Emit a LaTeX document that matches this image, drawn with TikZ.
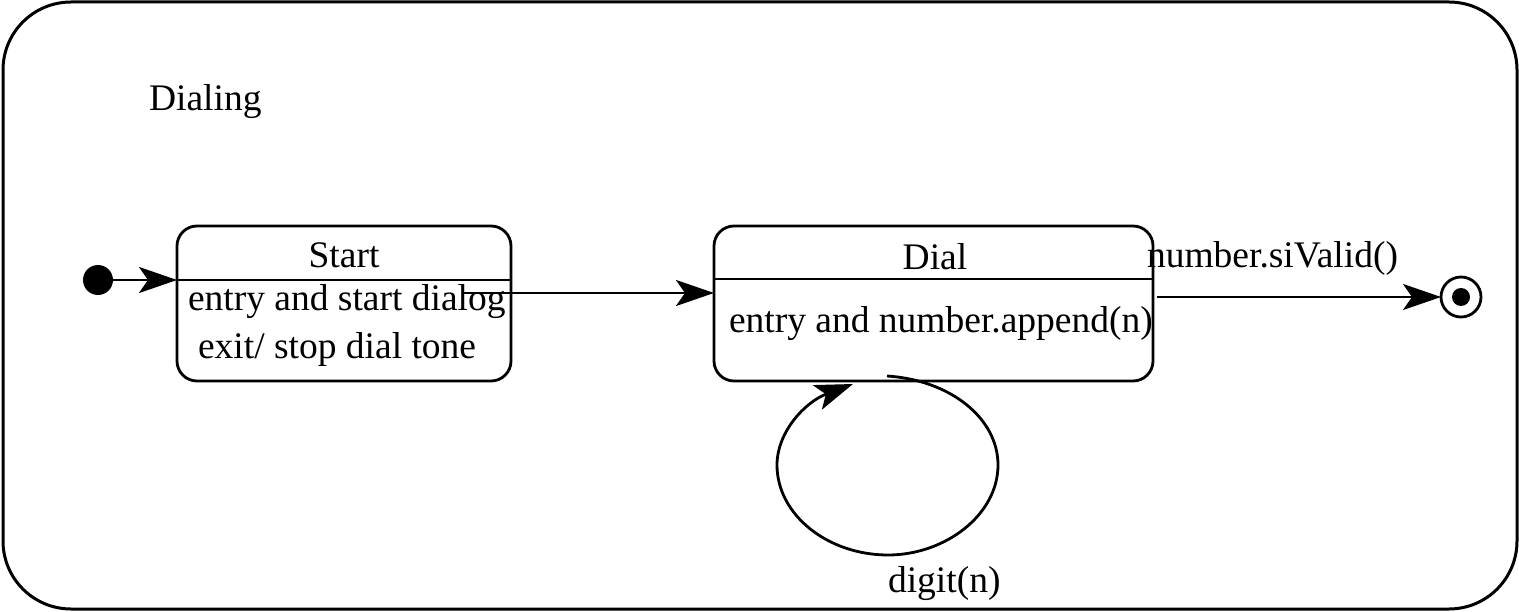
\documentclass[tikz,border=0pt]{standalone}
\usepackage{fontspec}
\setmainfont{Liberation Serif}
\usetikzlibrary{arrows.meta}
\begin{document}
\begin{tikzpicture}[x=1pt,y=-1pt,
  every node/.style={inner sep=0pt, outer sep=0pt},
  lbl/.style={font=\fontsize{37.5}{44}\selectfont, anchor=base west},
  ttl/.style={font=\fontsize{37.5}{44}\selectfont, anchor=base},
  statebox/.style={draw, line width=2.8pt, rounded corners=20pt, minimum height=155pt},
  conn/.style={line width=2.8pt, -{Stealth[length=38pt, width=26pt, inset=9pt]}},
  divider/.style={line width=2.8pt}]
\useasboundingbox (0,0) rectangle (1519,612);

% enclosing composite state
\node[draw, line width=3pt, rounded corners=68pt, minimum width=1514pt, minimum height=607pt] (dialing) at (760,305.5) {};
\node[lbl] (dialingname) at (149,111) {Dialing};

% pseudo states
\node[circle, fill, minimum size=30pt] (init) at (98,280) {};
\node[circle, draw, line width=2.8pt, minimum size=40pt] (final) at (1461,297) {};
\node[circle, fill, minimum size=18pt] (finaldot) at (final.center) {};

% Start state
\node[statebox, minimum width=334pt] (start) at (344,303.5) {};
\draw[divider] (start.west |- 0,280) -- (start.east |- 0,280);
\node[ttl] (startname) at (344,268) {Start};
\node[lbl] (startentry) at (188,311) {entry and start dialog};
\node[lbl] (startexit) at (198,359) {exit/ stop dial tone};

% Dial state
\node[statebox, minimum width=439pt] (dial) at (933.5,303.5) {};
\draw[divider] (dial.west |- 0,279) -- (dial.east |- 0,279);
\node[ttl] (dialname) at (935,270) {Dial};
\node[lbl] (dialentry) at (729,333) {entry and number.append(n)};

% transitions
\draw[conn] (init) -- (init -| start.west);
\coordinate (sd) at (463,293);
\draw[conn] (sd) -- (sd -| dial.west);
\coordinate (df) at (1157,297);
\draw[conn] (df) -- (final);
\node[lbl] (validlbl) at (1147,268) {number.siValid()};

% self transition on Dial
\coordinate (loopstart) at (887,376);
\coordinate (loopend) at (853,384);
\draw[conn] (loopstart) .. controls (950,380) and (998,418) .. (998,465)
  .. controls (998,515) and (945,555) .. (888,555)
  .. controls (828,555) and (777,515) .. (777,465)
  .. controls (777,432) and (805,402) .. (loopend);
\node[lbl] (digitlbl) at (888,592) {digit(n)};
\end{tikzpicture}
\end{document}
